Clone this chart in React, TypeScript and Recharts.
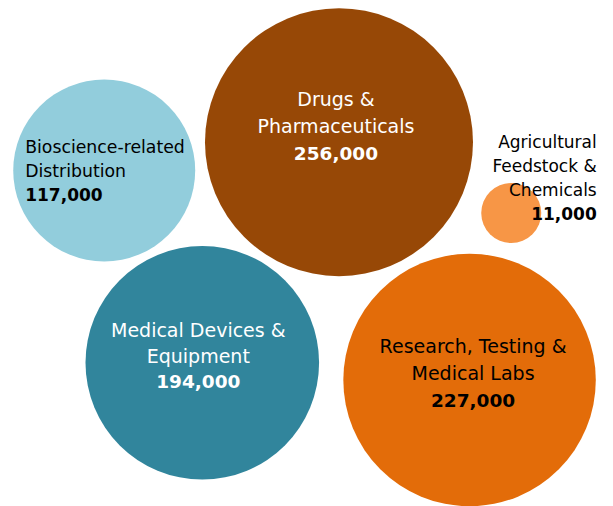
import { ScatterChart, Scatter, XAxis, YAxis, ZAxis, Cell } from 'recharts';

// bioscience employment by sector
const sectors = [
  'Bioscience-related Distribution',
  'Drugs & Pharmaceuticals',
  'Agricultural Feedstock & Chemicals',
  'Medical Devices & Equipment',
  'Research, Testing & Medical Labs',
];
const jobs = [117000, 256000, 11000, 194000, 227000];
// bubble layout (0-100 on each axis, no meaning beyond placement)
const posX = [17.0, 55.3, 83.4, 33.0, 76.6];
const posY = [66.3, 71.9, 57.9, 28.3, 24.9];
const labelLines = [
  ['Bioscience-related', 'Distribution'],
  ['Drugs &', 'Pharmaceuticals'],
  ['Agricultural', 'Feedstock &', 'Chemicals'],
  ['Medical Devices &', 'Equipment'],
  ['Research, Testing &', 'Medical Labs'],
];

const colors = ['#92CDDC', '#974806', '#F79646', '#31859C', '#E36C09'];
const labelStyle = [
  { color: '#000', anchor: 'start', dx: -79, dy: -24, gap: 24, size: 17.3, vsize: 17 },
  { color: '#fff', anchor: 'middle', dx: -3, dy: -43, gap: 27, size: 19, vsize: 18.5 },
  { color: '#000', anchor: 'end', dx: 85.5, dy: -71, gap: 24, size: 17, vsize: 17 },
  { color: '#fff', anchor: 'middle', dx: -4, dy: -33, gap: 26, size: 19, vsize: 18.5 },
  { color: '#000', anchor: 'middle', dx: 3.5, dy: -34, gap: 27, size: 19, vsize: 18.5 },
];

const data = sectors.map((name, i) => ({ i, name, x: posX[i], y: posY[i], z: jobs[i] }));

const FONT = '"DejaVu Sans", sans-serif';

const Bubble = (props: any) => {
  const { cx, cy, size, payload, fill } = props;
  const r = Math.sqrt(size / Math.PI);
  const st = labelStyle[payload.i];
  const lines = labelLines[payload.i];
  const x = cx + st.dx;
  return (
    <g>
      <circle cx={cx} cy={cy} r={r} fill={fill} />
      {lines.map((t, k) => (
        <text key={k} x={x} y={cy + st.dy + k * st.gap} textAnchor={st.anchor} dominantBaseline="central"
          fill={st.color} fontSize={st.size} fontFamily={FONT}>
          {t}
        </text>
      ))}
      <text x={x} y={cy + st.dy + lines.length * st.gap} textAnchor={st.anchor} dominantBaseline="central"
        fill={st.color} fontSize={st.vsize} fontWeight="bold" fontFamily={FONT}>
        {payload.z.toLocaleString('en-US')}
      </text>
    </g>
  );
};

export default function App() {
  return (
    <div style={{ position: 'absolute', left: 0, top: 0 }}>
      <ScatterChart width={613} height={506} margin={{ top: 0, right: 0, bottom: 0, left: 0 }}>
        <XAxis type="number" dataKey="x" domain={[0, 100]} hide />
        <YAxis type="number" dataKey="y" domain={[0, 100]} hide />
        <ZAxis type="number" dataKey="z" domain={[0, 256000]} range={[421, 56410]} />
        <Scatter data={data} shape={<Bubble />} isAnimationActive={false}>
          {data.map((d) => (
            <Cell key={d.name} fill={colors[d.i]} />
          ))}
        </Scatter>
      </ScatterChart>
    </div>
  );
}
